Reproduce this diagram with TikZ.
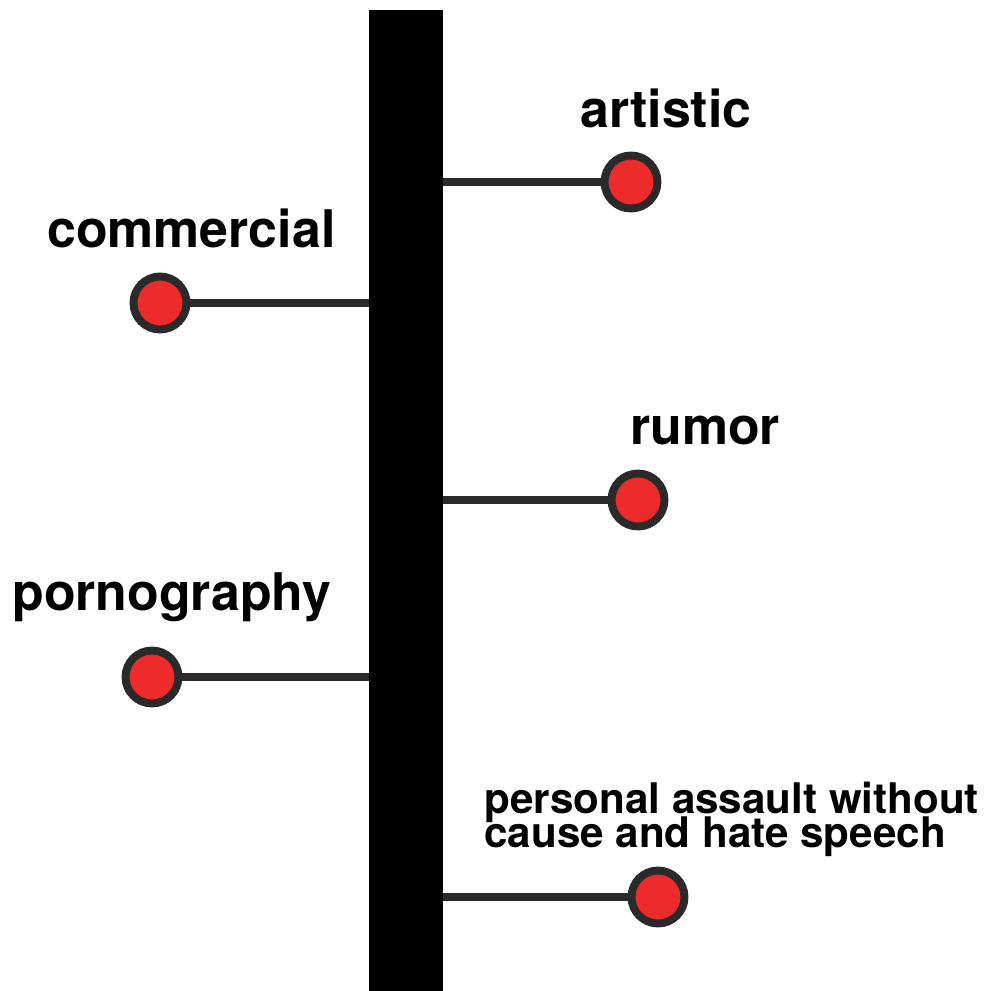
\documentclass[tikz,border=0pt]{standalone}
\usepackage{fontspec}
\setmainfont{TeX Gyre Heros}
\usetikzlibrary{positioning}
\definecolor{dotred}{HTML}{EE2B2B}
\definecolor{stem}{HTML}{2A2A2A}

\begin{document}
\begin{tikzpicture}[
    x=0.02cm, y=-0.02cm,
    bar/.style={fill=black, minimum width=1.48cm, minimum height=19.8cm, inner sep=0pt, anchor=north},
    dot/.style={draw=stem, circle, fill=dotred, line width=4.5pt, minimum size=1.06cm, inner sep=0pt},
    lbl/.style={anchor=base west, inner sep=0pt, font=\bfseries\fontsize{29.5}{30}\selectfont},
    smalllbl/.style={anchor=base west, inner sep=0pt, align=left, font=\bfseries\fontsize{24}{17}\selectfont},
    link/.style={draw=stem, line width=4.5pt}
]
\useasboundingbox (0,0) rectangle (988,991);
\node[bar] (bar) at (406,10) {};

\node[dot] (d1) at (631,182) {};
\node[dot] (d2) at (160,303) {};
\node[dot] (d3) at (638,500) {};
\node[dot] (d4) at (152,677) {};
\node[dot] (d5) at (658,897) {};

\node[lbl] (l1) at (580,127) {artistic};
\node[lbl] (l2) at (47,247) {commercial};
\node[lbl] (l3) at (630,444) {rumor};
\node[lbl] (l4) at (12,610) {pornography};
\node[smalllbl] (l5) at (484,847) {personal assault without\\[-4.6pt]cause and hate speech};

\draw[link] (bar.east |- d1) -- (d1);
\draw[link] (bar.west |- d2) -- (d2);
\draw[link] (bar.east |- d3) -- (d3);
\draw[link] (bar.west |- d4) -- (d4);
\draw[link] (bar.east |- d5) -- (d5);
\end{tikzpicture}
\end{document}
